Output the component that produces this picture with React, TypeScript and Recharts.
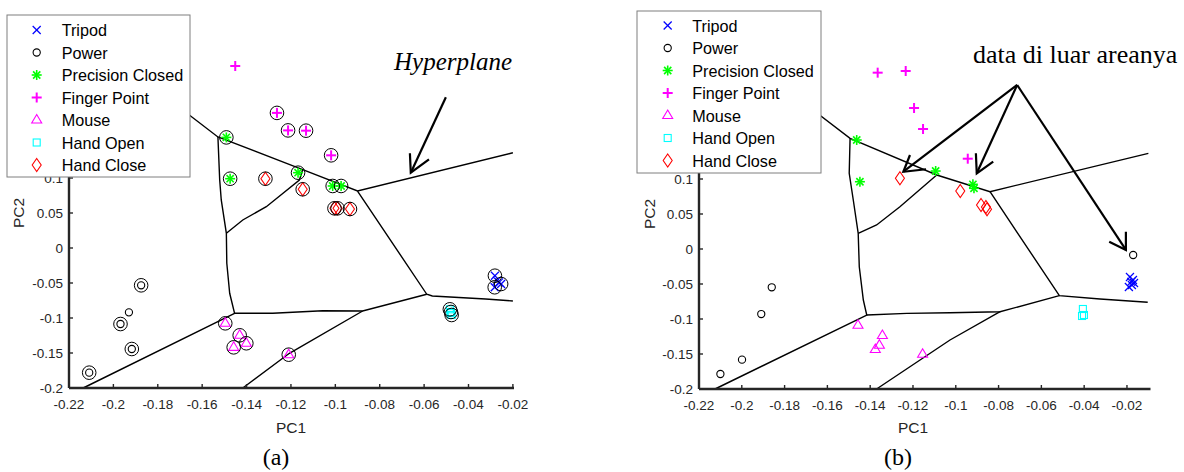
import React from 'react';
import { ScatterChart, Scatter, XAxis, YAxis } from 'recharts';

type Pt = { x: number; y: number };
type Kind = 'x' | 'o' | '*' | '+' | '^' | 's' | 'd' | 'sv';

const CLASS_NAMES = ['Tripod', 'Power', 'Precision Closed', 'Finger Point', 'Mouse', 'Hand Open', 'Hand Close'];
const CLASS_KINDS: Kind[] = ['x', 'o', '*', '+', '^', 's', 'd'];
const CLASS_COLORS = ['#0000ff', '#000000', '#00ff00', '#ff00ff', '#ff00ff', '#00ffff', '#ff0000'];

const X_TICKS = [-0.22, -0.2, -0.18, -0.16, -0.14, -0.12, -0.1, -0.08, -0.06, -0.04, -0.02];
const Y_TICKS = [-0.2, -0.15, -0.1, -0.05, 0, 0.05, 0.1];
const Y_DOMAIN = [-0.2, 0.33];

// ---------- panel (a) ----------
const tripodA: Pt[] = [
  { x: -0.0281, y: -0.0396 }, { x: -0.0253, y: -0.0514 }, { x: -0.0282, y: -0.0561 },
  { x: -0.0272, y: -0.0466 }, { x: -0.0262, y: -0.049 },
];
const powerA: Pt[] = [
  { x: -0.1875, y: -0.0533 }, { x: -0.193, y: -0.0919 }, { x: -0.1968, y: -0.1086 },
  { x: -0.1917, y: -0.1443 }, { x: -0.2109, y: -0.1781 },
];
const precisionA: Pt[] = [
  { x: -0.1491, y: 0.158 }, { x: -0.1474, y: 0.099 }, { x: -0.1168, y: 0.1076 },
  { x: -0.1012, y: 0.0886 }, { x: -0.0974, y: 0.0886 },
];
const fingerA: Pt[] = [
  { x: -0.1451, y: 0.26 }, { x: -0.1263, y: 0.193 }, { x: -0.1213, y: 0.168 },
  { x: -0.1132, y: 0.1676 }, { x: -0.1019, y: 0.1324 },
];
const mouseA: Pt[] = [
  { x: -0.1496, y: -0.1076 }, { x: -0.1431, y: -0.1247 }, { x: -0.1401, y: -0.1361 },
  { x: -0.1458, y: -0.1419 }, { x: -0.121, y: -0.1524 },
];
const handOpenA: Pt[] = [
  { x: -0.0484, y: -0.0876 }, { x: -0.0476, y: -0.0957 }, { x: -0.0479, y: -0.0914 }, { x: -0.0481, y: -0.093 },
];
const handCloseA: Pt[] = [
  { x: -0.1315, y: 0.099 }, { x: -0.1147, y: 0.0839 }, { x: -0.1004, y: 0.0567 },
  { x: -0.099, y: 0.0567 }, { x: -0.0934, y: 0.0557 },
];
// circled points (support vectors)
const supportA: Pt[] = [
  { x: -0.1263, y: 0.193 }, { x: -0.1213, y: 0.168 }, { x: -0.1132, y: 0.1676 }, { x: -0.1019, y: 0.1324 },
  { x: -0.1491, y: 0.158 }, { x: -0.1474, y: 0.099 }, { x: -0.1168, y: 0.1076 }, { x: -0.1012, y: 0.0886 }, { x: -0.0974, y: 0.0886 },
  { x: -0.1315, y: 0.099 }, { x: -0.1147, y: 0.0839 }, { x: -0.1004, y: 0.0567 }, { x: -0.099, y: 0.0567 }, { x: -0.0934, y: 0.0557 },
  { x: -0.1496, y: -0.1076 }, { x: -0.1431, y: -0.1247 }, { x: -0.1401, y: -0.1361 }, { x: -0.1458, y: -0.1419 }, { x: -0.121, y: -0.1524 },
  { x: -0.1875, y: -0.0533 }, { x: -0.1968, y: -0.1086 }, { x: -0.1917, y: -0.1443 }, { x: -0.2109, y: -0.1781 },
  { x: -0.0281, y: -0.0396 }, { x: -0.0253, y: -0.0514 }, { x: -0.0282, y: -0.0561 },
  { x: -0.0484, y: -0.0876 }, { x: -0.0476, y: -0.0957 }, { x: -0.0479, y: -0.0914 },
];

const hyperA: Pt[][] = [
  [{ x: -0.1746, y: 0.2114 }, { x: -0.1529, y: 0.1586 }, { x: -0.1147, y: 0.1121 }, { x: -0.09, y: 0.0814 }, { x: -0.02, y: 0.1361 }],
  [{ x: -0.09, y: 0.0814 }, { x: -0.0588, y: -0.0661 }, { x: -0.0563, y: -0.0686 }, { x: -0.0323, y: -0.0729 }, { x: -0.02, y: -0.0757 }],
  [{ x: -0.1529, y: 0.1586 }, { x: -0.1521, y: 0.0971 }, { x: -0.1514, y: 0.0686 }, { x: -0.1491, y: 0.021 }, { x: -0.1489, y: -0.0219 }, { x: -0.1476, y: -0.0647 }, { x: -0.1454, y: -0.0933 }, { x: -0.2136, y: -0.2 }],
  [{ x: -0.1491, y: 0.021 }, { x: -0.1417, y: 0.04 }, { x: -0.1311, y: 0.059 }, { x: -0.1162, y: 0.0971 }, { x: -0.1147, y: 0.1121 }],
  [{ x: -0.1454, y: -0.0933 }, { x: -0.1282, y: -0.0933 }, { x: -0.1057, y: -0.0896 }, { x: -0.0877, y: -0.09 }, { x: -0.0588, y: -0.0661 }],
  [{ x: -0.0877, y: -0.09 }, { x: -0.1207, y: -0.1504 }, { x: -0.1417, y: -0.2 }],
];
const arrowShaftA: Pt[][] = [[{ x: -0.0502, y: 0.2153 }, { x: -0.066, y: 0.1076 }]];
const arrowHeadA: Pt[][] = [[{ x: -0.0664, y: 0.1353 }, { x: -0.066, y: 0.1076 }, { x: -0.0578, y: 0.1267 }]];

// ---------- panel (b) ----------
const tripodB: Pt[] = [
  { x: -0.0186, y: -0.04 }, { x: -0.0172, y: -0.0443 }, { x: -0.0177, y: -0.0514 },
  { x: -0.0191, y: -0.0543 }, { x: -0.0167, y: -0.0486 }, { x: -0.018, y: -0.047 },
];
const powerB: Pt[] = [
  { x: -0.186, y: -0.0547 }, { x: -0.1909, y: -0.0929 }, { x: -0.1999, y: -0.1581 },
  { x: -0.21, y: -0.1786 }, { x: -0.0171, y: -0.0086 },
];
const precisionB: Pt[] = [
  { x: -0.1463, y: 0.1557 }, { x: -0.1448, y: 0.0961 }, { x: -0.1094, y: 0.1114 },
  { x: -0.092, y: 0.0924 }, { x: -0.0915, y: 0.0867 },
];
const fingerB: Pt[] = [
  { x: -0.1365, y: 0.2519 }, { x: -0.1234, y: 0.2543 }, { x: -0.1195, y: 0.2014 },
  { x: -0.1153, y: 0.1714 }, { x: -0.0944, y: 0.129 },
];
const mouseB: Pt[] = [
  { x: -0.1457, y: -0.109 }, { x: -0.1343, y: -0.1236 }, { x: -0.1357, y: -0.1374 },
  { x: -0.1376, y: -0.1436 }, { x: -0.1155, y: -0.1504 },
];
const handOpenB: Pt[] = [{ x: -0.0406, y: -0.0857 }, { x: -0.0401, y: -0.0943 }, { x: -0.041, y: -0.0957 }];
const handCloseB: Pt[] = [
  { x: -0.1261, y: 0.101 }, { x: -0.0979, y: 0.0829 }, { x: -0.0882, y: 0.0629 },
  { x: -0.0854, y: 0.0567 }, { x: -0.0859, y: 0.06 },
];

const hyperB: Pt[][] = [
  [{ x: -0.1728, y: 0.2129 }, { x: -0.1494, y: 0.1581 }, { x: -0.1089, y: 0.1057 }, { x: -0.084, y: 0.0819 }, { x: -0.01, y: 0.1367 }],
  [{ x: -0.084, y: 0.0819 }, { x: -0.0516, y: -0.0667 }, { x: -0.0326, y: -0.0714 }, { x: -0.0103, y: -0.0761 }],
  [{ x: -0.1494, y: 0.1581 }, { x: -0.1498, y: 0.1081 }, { x: -0.1479, y: 0.07 }, { x: -0.1456, y: 0.0224 }, { x: -0.1451, y: -0.0253 }, { x: -0.1432, y: -0.0729 }, { x: -0.1416, y: -0.0943 }, { x: -0.2125, y: -0.2 }],
  [{ x: -0.1456, y: 0.0224 }, { x: -0.137, y: 0.0343 }, { x: -0.1261, y: 0.0604 }, { x: -0.1089, y: 0.1057 }],
  [{ x: -0.1416, y: -0.0943 }, { x: -0.1229, y: -0.0919 }, { x: -0.1027, y: -0.091 }, { x: -0.0793, y: -0.0896 }, { x: -0.0516, y: -0.0667 }],
  [{ x: -0.0793, y: -0.0896 }, { x: -0.1027, y: -0.13 }, { x: -0.137, y: -0.2 }],
];
const arrowShaftB: Pt[][] = [
  [{ x: -0.0713, y: 0.2343 }, { x: -0.1245, y: 0.1104 }],
  [{ x: -0.0713, y: 0.2343 }, { x: -0.0902, y: 0.1081 }],
  [{ x: -0.0713, y: 0.2343 }, { x: -0.0205, y: -0.0014 }],
];
const arrowHeadB: Pt[][] = [
  [{ x: -0.1214, y: 0.1343 }, { x: -0.1245, y: 0.1104 }, { x: -0.1139, y: 0.1139 }],
  [{ x: -0.0906, y: 0.1367 }, { x: -0.0902, y: 0.1081 }, { x: -0.0825, y: 0.1247 }],
  [{ x: -0.0205, y: 0.0247 }, { x: -0.0205, y: -0.0014 }, { x: -0.0283, y: 0.0104 }],
];

const SANS = '"Liberation Sans", Arial, sans-serif';
const SERIF = '"Liberation Serif", "Times New Roman", serif';
const AXIS = '#262626';

function Glyph({ kind, cx, cy, color }: { kind: Kind; cx: number; cy: number; color: string }) {
  const st = { stroke: color, fill: 'none' };
  switch (kind) {
    case 'x':
      return (
        <g {...st} strokeWidth={1.2}>
          <line x1={cx - 4} y1={cy - 4} x2={cx + 4} y2={cy + 4} />
          <line x1={cx - 4} y1={cy + 4} x2={cx + 4} y2={cy - 4} />
        </g>
      );
    case 'o':
      return <circle cx={cx} cy={cy} r={3.6} {...st} strokeWidth={1.1} />;
    case '*':
      return (
        <g {...st} strokeWidth={1.6}>
          <line x1={cx} y1={cy - 5} x2={cx} y2={cy + 5} />
          <line x1={cx - 5} y1={cy} x2={cx + 5} y2={cy} />
          <line x1={cx - 3.6} y1={cy - 3.6} x2={cx + 3.6} y2={cy + 3.6} />
          <line x1={cx - 3.6} y1={cy + 3.6} x2={cx + 3.6} y2={cy - 3.6} />
        </g>
      );
    case '+':
      return (
        <g {...st} strokeWidth={2}>
          <line x1={cx} y1={cy - 5} x2={cx} y2={cy + 5} />
          <line x1={cx - 5} y1={cy} x2={cx + 5} y2={cy} />
        </g>
      );
    case '^':
      return <polygon points={`${cx},${cy - 5.5} ${cx + 5},${cy + 3} ${cx - 5},${cy + 3}`} {...st} strokeWidth={1.1} />;
    case 's':
      return <rect x={cx - 3.5} y={cy - 3.5} width={7} height={7} {...st} strokeWidth={1.1} />;
    case 'd':
      return <polygon points={`${cx},${cy - 6.5} ${cx + 4.5},${cy} ${cx},${cy + 6.5} ${cx - 4.5},${cy}`} {...st} strokeWidth={1.1} />;
    default:
      return <circle cx={cx} cy={cy} r={6.8} stroke="#000" fill="none" strokeWidth={1} />;
  }
}

const shapeOf = (kind: Kind, color: string) => (p: any) => <Glyph kind={kind} cx={p.cx} cy={p.cy} color={color} />;
const noDot = () => <g />;

type Margin = { top: number; right: number; bottom: number; left: number };

type PanelProps = {
  width: number;
  margin: Margin;
  xDomain: number[];
  classes: Pt[][];
  support: Pt[];
  hyper: Pt[][];
  shafts: Pt[][];
  heads: Pt[][];
};

// marks only; the axes are drawn by AxesLayer on top with the same scales
function Panel({ width, margin, xDomain, classes, support, hyper, shafts, heads }: PanelProps) {
  return (
    <ScatterChart width={width} height={472} margin={margin}>
      <XAxis type="number" dataKey="x" domain={xDomain} ticks={X_TICKS} height={30} tick={false} axisLine={false} tickLine={false} />
      <YAxis type="number" dataKey="y" domain={Y_DOMAIN} ticks={Y_TICKS} width={50} tick={false} axisLine={false} tickLine={false} />
      {hyper.map((d, i) => (
        <Scatter key={`h${i}`} data={d} shape={noDot} line={{ stroke: '#000', strokeWidth: 1.4, fill: 'none' }} legendType="none" isAnimationActive={false} />
      ))}
      {shafts.map((d, i) => (
        <Scatter key={`a${i}`} data={d} shape={noDot} line={{ stroke: '#000', strokeWidth: 2.2, fill: 'none' }} legendType="none" isAnimationActive={false} />
      ))}
      {heads.map((d, i) => (
        <Scatter key={`ah${i}`} data={d} shape={noDot} line={{ stroke: '#000', strokeWidth: 2.2, fill: 'none' }} legendType="none" isAnimationActive={false} />
      ))}
      {classes.map((d, i) => (
        <Scatter key={`c${i}`} data={d} shape={shapeOf(CLASS_KINDS[i], CLASS_COLORS[i])} legendType="none" isAnimationActive={false} />
      ))}
      {support.length > 0 && (
        <Scatter data={support} shape={shapeOf('sv', '#000')} legendType="none" isAnimationActive={false} />
      )}
    </ScatterChart>
  );
}

function AxesLayer({ width, margin, xDomain, anchors }: { width: number; margin: Margin; xDomain: number[]; anchors: Pt[] }) {
  return (
    <ScatterChart width={width} height={472} margin={margin}>
      <XAxis
        type="number"
        dataKey="x"
        domain={xDomain}
        ticks={X_TICKS}
        interval={0}
        height={30}
        tickSize={-4}
        tickMargin={15}
        stroke={AXIS}
        fontSize={13.5}
        fontFamily={SANS}
        axisLine={{ stroke: AXIS, strokeWidth: 2.4 }}
        tickLine={{ stroke: AXIS, strokeWidth: 1.4 }}
      />
      <YAxis
        type="number"
        dataKey="y"
        domain={Y_DOMAIN}
        ticks={Y_TICKS}
        interval={0}
        width={50}
        tickSize={-4}
        tickMargin={10}
        stroke={AXIS}
        fontSize={13.5}
        fontFamily={SANS}
        axisLine={{ stroke: AXIS, strokeWidth: 2.4 }}
        tickLine={{ stroke: AXIS, strokeWidth: 1.4 }}
      />
      <Scatter data={anchors} shape={noDot} legendType="none" isAnimationActive={false} />
    </ScatterChart>
  );
}

function LegendBox({ left, top, w, h, markX, textX, firstRow }: { left: number; top: number; w: number; h: number; markX: number; textX: number; firstRow: number }) {
  return (
    <svg width={w + 2} height={h + 2} style={{ position: 'absolute', left: left - 1, top: top - 1, display: 'block' }}>
      <rect x={1} y={1} width={w} height={h} fill="#fff" stroke="#7f7f7f" strokeWidth={1} />
      {CLASS_NAMES.map((name, i) => {
        const cy = 1 + firstRow + i * 22.5;
        return (
          <g key={name}>
            <Glyph kind={CLASS_KINDS[i]} cx={1 + markX} cy={cy} color={CLASS_COLORS[i]} />
            <text x={1 + textX} y={cy + 6} fontFamily={SANS} fontSize={16.2} fill="#000">{name}</text>
          </g>
        );
      })}
    </svg>
  );
}

// a text placed by its anchor point (page coordinates)
function Tag({ x, y, text, size, family, anchor = 'middle', italic = false, rotate = false, color = '#000' }: {
  x: number; y: number; text: string; size: number; family: string; anchor?: string; italic?: boolean; rotate?: boolean; color?: string;
}) {
  const w = anchor === 'start' ? 300 : 260;
  const h = 120;
  const ox = anchor === 'start' ? 10 : w / 2;
  const oy = h / 2;
  return (
    <svg width={w} height={h} style={{ position: 'absolute', left: x - ox, top: y - oy, display: 'block', pointerEvents: 'none' }}>
      <text
        x={ox}
        y={oy}
        textAnchor={anchor as any}
        fontFamily={family}
        fontSize={size}
        fontStyle={italic ? 'italic' : 'normal'}
        fill={color}
        transform={rotate ? `rotate(-90 ${ox} ${oy})` : undefined}
      >
        {text}
      </text>
    </svg>
  );
}

const MARGIN_A: Margin = { top: 17, right: 86, bottom: 54, left: 19 };
const MARGIN_B: Margin = { top: 18, right: 33.5, bottom: 53, left: 49 };
const X_DOMAIN_A = [-0.22, -0.0195];
const X_DOMAIN_B = [-0.22, -0.009];

export default function App() {
  return (
    <div style={{ position: 'absolute', left: 0, top: 0, width: 1184, height: 472, background: '#fff' }}>
      <div style={{ position: 'absolute', left: 0, top: 0 }}>
        <Panel
          width={600}
          margin={MARGIN_A}
          xDomain={X_DOMAIN_A}
          classes={[tripodA, powerA, precisionA, fingerA, mouseA, handOpenA, handCloseA]}
          support={supportA}
          hyper={hyperA}
          shafts={arrowShaftA}
          heads={arrowHeadA}
        />
      </div>
      <div style={{ position: 'absolute', left: 0, top: 0 }}>
        <AxesLayer width={600} margin={MARGIN_A} xDomain={X_DOMAIN_A} anchors={tripodA} />
      </div>
      <div style={{ position: 'absolute', left: 600, top: 0 }}>
        <Panel
          width={584}
          margin={MARGIN_B}
          xDomain={X_DOMAIN_B}
          classes={[tripodB, powerB, precisionB, fingerB, mouseB, handOpenB, handCloseB]}
          support={[]}
          hyper={hyperB}
          shafts={arrowShaftB}
          heads={arrowHeadB}
        />
      </div>
      <div style={{ position: 'absolute', left: 600, top: 0 }}>
        <AxesLayer width={584} margin={MARGIN_B} xDomain={X_DOMAIN_B} anchors={handOpenB} />
      </div>

      <LegendBox left={7} top={15} w={183} h={162} markX={29.7} textX={54.7} firstRow={15} />
      <LegendBox left={637} top={11} w={184} h={162} markX={30.7} textX={55.3} firstRow={14.5} />

      <Tag x={394} y={70} text="Hyperplane" size={25} family={SERIF} anchor="start" italic />
      <Tag x={973} y={63} text="data di luar areanya" size={26} family={SERIF} anchor="start" />
      <Tag x={291.3} y={432.5} text="PC1" size={15.5} family={SANS} color={AXIS} />
      <Tag x={913} y={433} text="PC1" size={15.5} family={SANS} color={AXIS} />
      <Tag x={24} y={213} text="PC2" size={15.5} family={SANS} color={AXIS} rotate />
      <Tag x={655} y={214} text="PC2" size={15.5} family={SANS} color={AXIS} rotate />
      <Tag x={276} y={465} text="(a)" size={24} family={SERIF} />
      <Tag x={898} y={465} text="(b)" size={24} family={SERIF} />
    </div>
  );
}
